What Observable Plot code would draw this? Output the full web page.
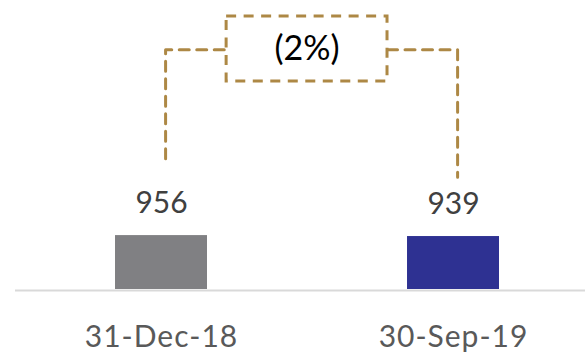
<!DOCTYPE html>
<html>
<head>
<meta charset="utf-8">
<script src="https://cdn.jsdelivr.net/npm/d3@7"></script>
<script src="https://cdn.jsdelivr.net/npm/@observablehq/plot@0.6"></script>
<style>
  html, body { margin: 0; padding: 0; background: #fff; }
  #chart svg { display: block; }
  #chart svg .date-axis text { letter-spacing: 1px; }
</style>
</head>
<body>
<div id="chart"></div>
<script>
// Period-end dates and balances
const dates = ["31-Dec-18", "30-Sep-19"];
const values = [956, 939];
const barColors = ["#808083", "#2e3192"];

// Change bracket: levels in value units, horizontal spots in bar-step units
const legTop = 4250;
const leftLegBottom = 2320;
const rightLegBottom = 1990;
const boxTop = 4840;
const boxBottom = 3690;
const legShift = 0.014;
const boxLeft = 0.223;
const boxRight = 0.774;

const bracketColor = "#ad8845";
const font = "Lato, 'Open Sans', sans-serif";
const halfBar = 0.1575;

const rows = dates.map((date, i) => ({i, date, value: values[i]}));
const change = values[1] / values[0] - 1;
const pct = Math.round(Math.abs(change) * 100);
const changeLabel = change < 0 ? `(${pct}%)` : `${pct}%`;

const leftLeg = [
  {x: 0 + legShift, y: leftLegBottom},
  {x: 0 + legShift, y: legTop},
  {x: boxLeft, y: legTop}
];
const rightLeg = [
  {x: boxRight, y: legTop},
  {x: 1 + legShift, y: legTop},
  {x: 1 + legShift, y: rightLegBottom}
];
const dash = {stroke: bracketColor, strokeWidth: 3, strokeDasharray: "10,7.5"};

const chart = Plot.plot({
  width: 585,
  height: 356,
  marginLeft: 15,
  marginRight: 0,
  marginTop: 7,
  marginBottom: 67,
  style: {fontFamily: font, background: "#fff"},
  x: {domain: [-0.5, 1.452], axis: null},
  y: {domain: [0, 5000], axis: null},
  color: {domain: dates, range: barColors},
  marks: [
    Plot.ruleY([0], {stroke: "#d9d9d9", strokeWidth: 2, dy: 1}),
    Plot.rectY(rows, {x1: d => d.i - halfBar, x2: d => d.i + halfBar, y: "value", fill: "date"}),
    Plot.text(rows, {
      x: "i", y: "value", text: d => d3.format(",")(d.value),
      lineAnchor: "bottom", dy: -23, fontSize: 30, fill: "#404040"
    }),
    Plot.axisX([0, 1], {
      tickSize: 0, tickPadding: 36, tickFormat: i => dates[i],
      fontSize: 30, fill: "#595959", className: "date-axis"
    }),
    Plot.line(leftLeg, {x: "x", y: "y", ...dash}),
    Plot.line(rightLeg, {x: "x", y: "y", ...dash}),
    Plot.rect([changeLabel], {x1: boxLeft, x2: boxRight, y1: boxBottom, y2: boxTop, fill: "none", ...dash}),
    Plot.text([changeLabel], {
      x: (boxLeft + boxRight) / 2, y: (boxTop + boxBottom) / 2,
      text: d => d, fontSize: 34, fill: "#000"
    })
  ]
});

document.getElementById("chart").append(chart);
</script>
</body>
</html>
